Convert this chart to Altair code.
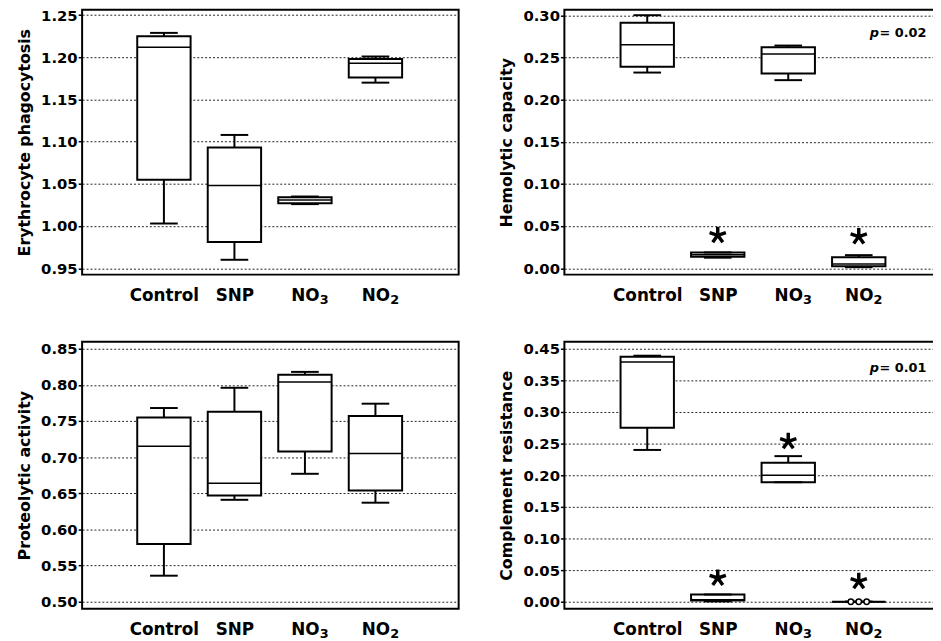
import json
import altair as alt
import pandas as pd

groups = ["Control", "SNP", "NO₃", "NO₂"]
group_main = ["Control", "SNP", "NO", "NO"]
group_sub = ["", "", "3", "2"]
positions = [1, 2, 3, 4]

# Erythrocyte phagocytosis: lower whisker, Q1, median, Q3, upper whisker
ery_lo = [1.003, 0.960, 1.026, 1.170]
ery_q1 = [1.055, 0.981, 1.027, 1.176]
ery_med = [1.212, 1.048, 1.031, 1.193]
ery_q3 = [1.225, 1.093, 1.034, 1.198]
ery_hi = [1.229, 1.108, 1.035, 1.201]

# Hemolytic capacity
hem_lo = [0.232, 0.0125, 0.223, 0.0012]
hem_q1 = [0.239, 0.0137, 0.231, 0.0023]
hem_med = [0.265, 0.0160, 0.254, 0.0050]
hem_q3 = [0.291, 0.0187, 0.262, 0.0129]
hem_hi = [0.300, 0.0187, 0.264, 0.0155]

# Proteolytic activity
pro_lo = [0.536, 0.641, 0.677, 0.637]
pro_q1 = [0.580, 0.647, 0.708, 0.654]
pro_med = [0.715, 0.664, 0.804, 0.705]
pro_q3 = [0.755, 0.763, 0.814, 0.757]
pro_hi = [0.768, 0.796, 0.818, 0.774]

# Complement resistance
com_lo = [0.240, 0.0005, 0.189, 0.0]
com_q1 = [0.275, 0.0020, 0.189, 0.0]
com_med = [0.379, 0.0030, 0.200, 0.0]
com_q3 = [0.3875, 0.0114, 0.2198, 0.0]
com_hi = [0.389, 0.0114, 0.2302, 0.0]

# significance stars
hem_star_x = [2, 4]
hem_star_y = [0.039, 0.0375]
com_star_x = [2, 3, 4]
com_star_y = [0.0375, 0.2536, 0.0323]

# individual points drawn for NO2 in complement resistance
com_pts_x = [4]
com_pts_y = [0.0]

# p-value annotations
p_x = 4.96
hem_p = "= 0.02"
hem_p_y = 0.279
com_p = "= 0.01"
com_p_y = 0.370

FONT = "DejaVu Sans"
ASTERISK = ("M0,0L0,-1M0,0L0.95,-0.31M0,0L0.59,0.81"
            "M0,0L-0.59,0.81M0,0L-0.95,-0.31")

label_expr_x = json.dumps(group_main, ensure_ascii=False) + "[datum.value-1]"


def frame(lo, q1, med, q3, hi):
    return pd.DataFrame({"pos": positions, "group": groups, "lo": lo,
                         "q1": q1, "med": med, "q3": q3, "hi": hi,
                         "sub": group_sub})


def make_panel(df, ydom, yvals, ytitle, xdom, w, h, ylabel_expr=None,
               stars=None, pval=None, points=None):
    xs = alt.Scale(domain=xdom, nice=False, zero=False)
    ys = alt.Scale(domain=ydom, nice=False, zero=False)
    ax_kw = dict(title=ytitle, values=yvals, format=".2f", grid=True,
                 gridColor="#222", gridDash=[2, 2], gridWidth=1,
                 domain=False, ticks=True, tickSize=4, tickColor="black",
                 tickWidth=1.5, labelFont=FONT, labelFontWeight="bold",
                 labelFontSize=15, labelColor="black", labelPadding=1,
                 titleFont=FONT, titleFontSize=16, titleFontWeight="bold",
                 titleColor="black", titlePadding=8)
    if ylabel_expr:
        ax_kw["labelExpr"] = ylabel_expr
    yax = alt.Axis(**ax_kw)
    xax = alt.Axis(values=positions, labelExpr=label_expr_x, grid=False,
                   ticks=False, tickSize=0, domain=False, labelFont=FONT,
                   labelFontWeight="bold", labelFontSize=17,
                   labelColor="black", labelBaseline="alphabetic",
                   labelPadding=26, title=None)
    X = alt.X("pos:Q", scale=xs, axis=xax)

    def Y(f):
        return alt.Y(f + ":Q", scale=ys, axis=yax)

    base = alt.Chart(df)
    layers = [
        base.mark_rule(color="black", strokeWidth=2).encode(
            x=X, y=Y("lo"), y2="q1"),
        base.mark_rule(color="black", strokeWidth=2).encode(
            x=X, y=Y("q3"), y2="hi"),
        base.mark_bar(size=54, fill="white", stroke="black",
                      strokeWidth=2).encode(x=X, y=Y("q1"), y2="q3"),
        base.mark_tick(orient="horizontal", size=54, thickness=1.5,
                       color="black", opacity=1).encode(x=X, y=Y("med")),
        base.mark_tick(orient="horizontal", size=28, thickness=2,
                       color="black", opacity=1).encode(x=X, y=Y("lo")),
        base.mark_tick(orient="horizontal", size=28, thickness=2,
                       color="black", opacity=1).encode(x=X, y=Y("hi")),
        # subscripts of the category labels
        base.mark_text(align="left", baseline="alphabetic", font=FONT,
                       fontWeight="bold", fontSize=13, dx=15,
                       color="black").encode(
            x=X, y=alt.value(h + 30), text="sub:N"),
    ]
    if points is not None:
        pdf = pd.DataFrame({"pos": points[0], "v": points[1]})
        for off in (-8, 0, 8):
            layers.append(
                alt.Chart(pdf).mark_point(
                    shape="circle", size=30, filled=True, fill="white",
                    stroke="black", strokeWidth=1.5, opacity=1,
                    xOffset=off).encode(x=X, y=Y("v")))
    if stars is not None:
        sdf = pd.DataFrame({"pos": stars[0], "v": stars[1]})
        layers.append(
            alt.Chart(sdf).mark_point(shape=ASTERISK, size=300, filled=False,
                                      stroke="black", strokeWidth=3.5,
                                      opacity=1).encode(x=X, y=Y("v")))
    if pval is not None:
        tdf = pd.DataFrame({"pos": [p_x], "v": [pval[1]], "t": [pval[0]]})
        layers.append(
            alt.Chart(tdf).mark_text(align="right", baseline="middle",
                                     font=FONT, fontWeight="bold",
                                     fontSize=13, color="black").encode(
                x=X, y=Y("v"), text="t:N"))
        layers.append(
            alt.Chart(tdf).mark_text(align="right", baseline="middle",
                                     font=FONT, fontWeight="bold",
                                     fontStyle="italic", fontSize=13,
                                     dx=-48, color="black").encode(
                x=X, y=Y("v"), text=alt.value("p")))
    return alt.layer(*layers).properties(width=w, height=h)


p1 = make_panel(frame(ery_lo, ery_q1, ery_med, ery_q3, ery_hi),
                [0.9424, 1.2564], [0.95, 1.00, 1.05, 1.10, 1.15, 1.20, 1.25],
                "Erythrocyte phagocytosis", [-0.09, 5.11], 381, 268)
p2 = make_panel(frame(hem_lo, hem_q1, hem_med, hem_q3, hem_hi),
                [-0.0076, 0.30645], [0.0, 0.05, 0.10, 0.15, 0.20, 0.25, 0.30],
                "Hemolytic capacity", [-0.105, 4.997], 374, 268,
                stars=(hem_star_x, hem_star_y), pval=(hem_p, hem_p_y))
p3 = make_panel(frame(pro_lo, pro_q1, pro_med, pro_q3, pro_hi),
                [0.4904, 0.8596],
                [0.50, 0.55, 0.60, 0.65, 0.70, 0.75, 0.80, 0.85],
                "Proteolytic activity", [-0.09, 5.11], 381, 270)
p4 = make_panel(frame(com_lo, com_q1, com_med, com_q3, com_hi),
                [-0.01094, 0.41094],
                [0.0, 0.05, 0.10, 0.15, 0.20, 0.25, 0.30, 0.35, 0.40],
                "Complement resistance", [-0.105, 4.997], 374, 270,
                ylabel_expr="datum.value > 0.39 ? '0.45' : format(datum.value, '.2f')",
                stars=(com_star_x, com_star_y), pval=(com_p, com_p_y),
                points=(com_pts_x, com_pts_y))

top = alt.hconcat(p1, p2, spacing=38)
bottom = alt.hconcat(p3, p4, spacing=38)
chart = alt.vconcat(top, bottom, spacing=33).properties(
    padding={"left": 7, "top": -5, "right": -2, "bottom": 0}
).configure_view(stroke="black", strokeWidth=2)

chart.save("out.html", embed_options={"renderer": "svg", "actions": False})
